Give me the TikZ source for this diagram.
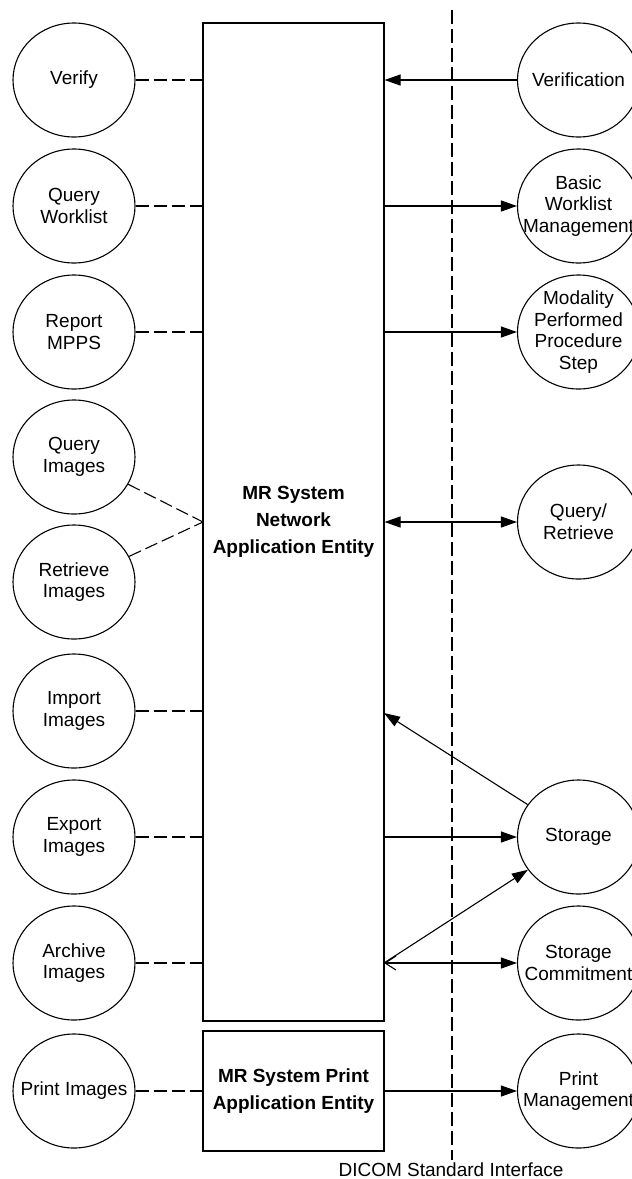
\documentclass[tikz,border=0pt]{standalone}
\usepackage{fontspec}
\setmainfont{Liberation Sans}
\usetikzlibrary{shapes.geometric,arrows.meta}

\tikzset{
  svc/.style={draw, ellipse, minimum width=122pt, minimum height=114pt, inner sep=0pt,
    label={[svctext]center:#1}},
  svctext/.style={align=center, font=\fontsize{19}{21.7}\selectfont},
  ae/.style={draw, rectangle, minimum width=181pt, inner sep=0pt, align=center,
    font=\fontsize{19}{27}\selectfont\bfseries},
  link/.style={dash pattern=on 13pt off 5pt},
  tri/.style={-{Triangle[length=16pt,width=11pt]}},
  bitri/.style={{Triangle[length=16pt,width=11pt]}-{Triangle[length=16pt,width=11pt]}}
}

\begin{document}
\begin{tikzpicture}[x=1pt, y=-1pt, line width=1.1pt]
\useasboundingbox (0,0) rectangle (632,1179);
% application entities
\node[ae, minimum height=998pt] (net) at (293.5,522) {MR System\\Network\\Application Entity};
\node[ae, minimum height=120pt] (prn) at (293.5,1091) {MR System Print\\Application Entity};
% local functions
\node[svc={Verify}] (verify) at (74,80) {};
\node[svc={Query\\Worklist}] (qwl) at (74,206) {};
\node[svc={Report\\MPPS}] (rmpps) at (74,332) {};
\node[svc={Query\\Images}] (qimg) at (74,457) {};
\node[svc={Retrieve\\Images}] (rimg) at (74,582) {};
\node[svc={Import\\Images}] (imimg) at (74,711) {};
\node[svc={Export\\Images}] (eximg) at (74,837) {};
\node[svc={Archive\\Images}] (arimg) at (74,963) {};
\node[svc={Print Images}] (primg) at (74,1091) {};
% remote services
\node[svc={Verification}] (verif) at (578.5,80) {};
\node[svc={Basic\\Worklist\\Management}] (bwlm) at (578.5,206) {};
\node[svc={Modality\\Performed\\Procedure\\Step}] (mpps) at (578.5,332) {};
\node[svc={Query/\\Retrieve}] (qret) at (578.5,522) {};
\node[svc={Storage}] (stor) at (578.5,837) {};
\node[svc={Storage\\Commitment}] (scomm) at (578.5,963) {};
\node[svc={Print\\Management}] (pmgmt) at (578.5,1091) {};
\coordinate (qrin) at (203,522);
\coordinate (impin) at (384,713);
\coordinate (arcout) at (384,963);
% DICOM interface
\draw[line width=1.1pt, dash pattern=on 14pt off 5pt] (452,10) -- (452,1160);
\node[font=\fontsize{19}{21.7}\selectfont] (dicom) at (451,1170) {DICOM Standard Interface};
% dashed links
\draw[link] (verify) -- (verify -| net.west);
\draw[link] (qwl) -- (qwl -| net.west);
\draw[link] (rmpps) -- (rmpps -| net.west);
\draw[link] (qimg) -- (qrin);
\draw[link] (rimg) -- (qrin);
\draw[link] (imimg) -- (imimg -| net.west);
\draw[link] (eximg) -- (eximg -| net.west);
\draw[link] (arimg) -- (arimg -| net.west);
\draw[link] (primg) -- (primg -| prn.west);
% associations
\draw[tri] (verif) -- (verif -| net.east);
\draw[tri] (bwlm -| net.east) -- (bwlm);
\draw[tri] (mpps -| net.east) -- (mpps);
\draw[bitri] (qret -| net.east) -- (qret);
\draw[tri] (stor) -- (impin);
\draw[tri] (stor -| net.east) -- (stor);
\draw[tri] (arcout) -- (stor);
\draw[{Straight Barb[length=11pt,width=14pt]}-{Triangle[length=16pt,width=11pt]}] (arcout) -- (scomm);
\draw[tri] (pmgmt -| prn.east) -- (pmgmt);
\end{tikzpicture}
\end{document}
